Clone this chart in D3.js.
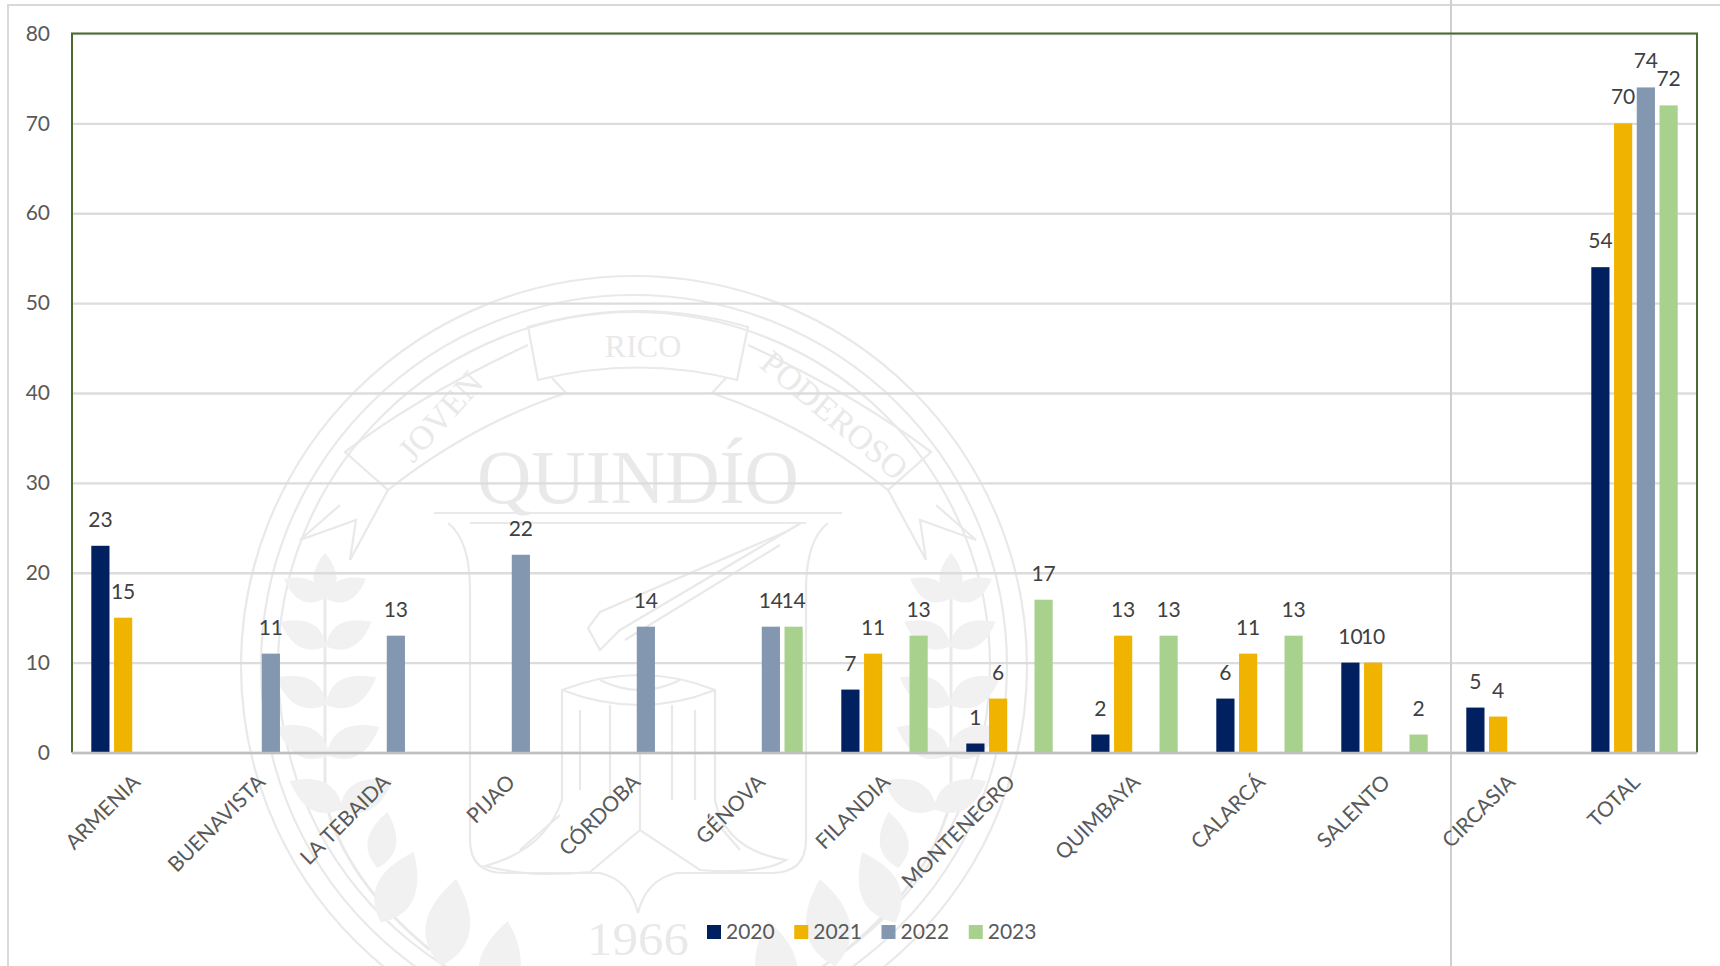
<!DOCTYPE html>
<html><head><meta charset="utf-8">
<style>html,body{margin:0;padding:0;background:#fff;overflow:hidden}svg{display:block}text{font-family:Lato,"Open Sans",sans-serif}</style>
<script src="https://cdnjs.cloudflare.com/ajax/libs/d3/7.8.5/d3.min.js"></script>
</head><body><svg id="c" width="1720" height="966"></svg>
<script>
const categories=["ARMENIA","BUENAVISTA","LA TEBAIDA","PIJAO","CÓRDOBA","GÉNOVA","FILANDIA","MONTENEGRO","QUIMBAYA","CALARCÁ","SALENTO","CIRCASIA","TOTAL"];
const seriesNames=["2020","2021","2022","2023"];
const values2020=[23,null,null,null,null,null,7,1,2,6,10,5,54];
const values2021=[15,null,null,null,null,null,11,6,13,11,10,4,70];
const values2022=[null,11,13,22,14,14,null,null,null,null,null,null,74];
const values2023=[null,null,null,null,null,14,13,17,13,13,2,null,72];
const seriesColors=["#00205f","#f0b400","#8497b0","#a9d18e"];
const yTicks=[0,10,20,30,40,50,60,70,80];

const allValues=[values2020,values2021,values2022,values2023];
const svg=d3.select("#c");
const L=72,R=1697,T=33.5,B=752.5;
const x0=d3.scaleBand().domain(categories).range([L,R]);
const x1=d3.scaleBand().domain(seriesNames).range([19.3,105.7]).paddingInner(0.2);
const y=d3.scaleLinear().domain([0,80]).range([B,T]);

/* faint seal watermark behind the chart */
const wm=svg.append("g").attr("fill","none").attr("stroke","#e9e9e9").attr("stroke-width",2.2);
[[393,390],[373,371],[356,354]].forEach(r=>wm.append("ellipse").attr("cx",634).attr("cy",666).attr("rx",r[0]).attr("ry",r[1]));
wm.append("path").attr("d","M528 327Q638 295 748 327L737 380Q638 355 538 380Z");
wm.append("path").attr("d","M528 345Q420 395 345 452L388 490Q470 425 566 393L552 378");
wm.append("path").attr("d","M748 345Q856 395 931 452L888 490Q806 425 712 393L726 378");
wm.append("path").attr("d","M388 490L350 560L356 520L300 540L340 505");
wm.append("path").attr("d","M888 490L926 560L920 520L976 540L936 505");
wm.append("path").attr("d","M434 513H842M448 523Q470 540 470 590V840Q470 873 505 873H600Q630 880 638 913Q646 880 676 873H771Q806 873 806 840V590Q806 540 828 523M470 523H806");
wm.append("path").attr("d","M801 523L620 630L600 650L588 628L600 612L790 530M780 545L625 640");
wm.append("path").attr("d","M562 690Q640 660 715 690V800Q725 850 786 860Q760 875 700 870L640 830L590 872Q530 878 485 866Q545 850 562 800Z");
wm.append("path").attr("d","M562 690Q640 720 715 690M600 680Q640 700 680 680");
wm.append("path").attr("d","M610 705V800M640 710V830M672 705V800M580 710V790M695 710V800M520 850L560 815M740 850L710 815");
wm.append("path").attr("d","M325 560V800Q345 880 430 950M951 560V800Q931 880 846 950").attr("stroke-width",3);
const leaves=[[325,578,0,.9],[305,590,-62,.85],[345,590,62,.85],[305,635,-62,1],[347,635,62,1],[303,692,-62,1.1],[349,692,62,1.1],[305,742,-62,1.15],[351,742,62,1.15],[318,796,-62,1.15],[364,796,62,1.15],
[382,842,10,1.1],[396,890,25,1.5],[448,926,10,1.7],[500,965,10,1.6]];
const lg=svg.append("g").attr("fill","#f1f1f1").attr("stroke","none");
leaves.forEach(l=>{
  const d="M0 24Q-26 4 0 -28Q26 4 0 24Z";
  lg.append("path").attr("d",d).attr("transform",`translate(${l[0]},${l[1]}) rotate(${l[2]}) scale(${l[3]})`);
  lg.append("path").attr("d",d).attr("transform",`translate(${1276-l[0]},${l[1]}) rotate(${-l[2]}) scale(${l[3]})`);
});
const wt=(t,x,yy,fs,rot,tl)=>{const n=svg.append("text").text(t).attr("text-anchor","middle").attr("fill","#e9e9e9").style("font-family","'Liberation Serif',serif").style("font-size",fs+"px").attr("transform",`translate(${x},${yy}) rotate(${rot})`);if(tl)n.attr("textLength",tl).attr("lengthAdjust","spacingAndGlyphs");};
wt("QUINDÍO",638,503,76,0,322);
wt("RICO",643,357,32,0);
wt("JOVEN",449,424,34,-48);
wt("PODEROSO",827,424,34,40);
wt("1966",638,955,46,0,102);

/* outer frame lines */
svg.append("path").attr("d","M8 966V5H1720").attr("fill","none").attr("stroke","#d9d9d9").attr("stroke-width",2);

/* grid + y axis */
const yAxis=d3.axisLeft(y).tickValues(yTicks).tickSize(-(R-L)).tickPadding(22);
const ga=svg.append("g").attr("transform",`translate(${L},0)`).call(yAxis);
ga.select(".domain").remove();
ga.selectAll(".tick line").attr("stroke","#dcdcdc").attr("stroke-width",2.4);
ga.selectAll(".tick text").attr("fill","#595959").style("font-size","21px");

svg.append("line").attr("x1",1451).attr("x2",1451).attr("y1",0).attr("y2",966).attr("stroke","#cfcfcf").attr("stroke-width",2);

/* bars */
const rows=seriesNames.map((s,i)=>({s,color:seriesColors[i],vals:allValues[i]}));
const gs=svg.selectAll("g.s").data(rows).join("g").attr("class","s").attr("fill",d=>d.color);
gs.selectAll("rect").data(d=>d.vals.map((v,i)=>({v,c:categories[i],s:d.s})).filter(d=>d.v!==null)).join("rect")
 .attr("x",d=>x0(d.c)+x1(d.s)).attr("width",x1.bandwidth()).attr("y",d=>y(d.v)).attr("height",d=>y(0)-y(d.v));
/* data labels */
gs.selectAll("text").data(d=>d.vals.map((v,i)=>({v,c:categories[i],s:d.s})).filter(d=>d.v!==null)).join("text")
 .attr("x",d=>x0(d.c)+x1(d.s)+x1.bandwidth()/2).attr("y",d=>y(d.v)-19).attr("text-anchor","middle")
 .attr("fill","#404040").style("font-size","21px").text(d=>d.v);

/* plot border */
svg.append("path").attr("d",`M${L} ${B}V${T}H${R}V${B}`).attr("fill","none").attr("stroke","#4a6b2f").attr("stroke-width",2);
svg.append("line").attr("x1",L).attr("x2",R).attr("y1",B+0.5).attr("y2",B+0.5).attr("stroke","#bfbfbf").attr("stroke-width",2.5);

/* x axis */
const xAxis=d3.axisBottom(x0).tickSize(0).tickPadding(0);
const gx=svg.append("g").attr("transform",`translate(0,${B})`).call(xAxis);
gx.select(".domain").remove();
gx.selectAll(".tick text").attr("fill","#595959").style("font-size","21px").attr("text-anchor","end")
 .attr("dy",0).attr("y",0).attr("x",0).attr("transform","translate(7,31) rotate(-45)");

/* legend */
const lgX=d3.scaleBand().domain(seriesNames).range([707,1056]);
const le=svg.selectAll("g.l").data(rows).join("g").attr("class","l").attr("transform",d=>`translate(${lgX(d.s)},925)`);
le.append("rect").attr("width",14).attr("height",14).attr("fill",d=>d.color);
le.append("text").attr("x",19).attr("y",14).attr("fill","#595959").style("font-size","21px").text(d=>d.s);
</script></body></html>
